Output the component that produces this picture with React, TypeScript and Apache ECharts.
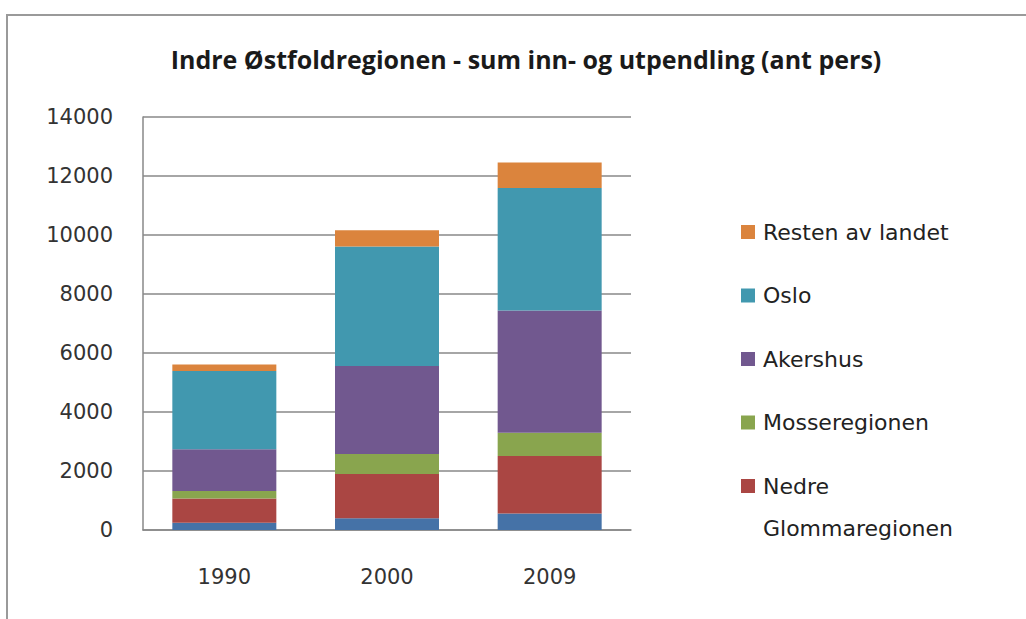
import React, { useEffect, useRef } from "react";
import * as echarts from "echarts";

const categories = ["1990", "2000", "2009"];
const seriesNames = [
  "Indre Østfold",
  "Nedre Glommaregionen",
  "Mosseregionen",
  "Akershus",
  "Oslo",
  "Resten av landet",
];
const indre = [250, 400, 560];
const nedreGlomma = [820, 1500, 1950];
const mosse = [250, 680, 790];
const akershus = [1420, 2980, 4140];
const oslo = [2650, 4050, 4150];
const resten = [220, 550, 870];
const yTicks = [0, 2000, 4000, 6000, 8000, 10000, 12000, 14000];
const legendOrder = ["Resten av landet", "Oslo", "Akershus", "Mosseregionen", "Nedre Glommaregionen"];

const colors = ["#4572A7", "#AA4643", "#89A54E", "#71588F", "#4198AF", "#DB843D"];

export default function App() {
  const ref = useRef<HTMLDivElement>(null);
  useEffect(() => {
    if (!ref.current) return;
    const chart = echarts.init(ref.current, null, { renderer: "svg" });
    const values = [indre, nedreGlomma, mosse, akershus, oslo, resten];
    chart.setOption({
      animation: false,
      backgroundColor: "#ffffff",
      title: {
        text: "Indre Østfoldregionen - sum inn- og utpendling (ant pers)",
        left: 521,
        textAlign: "center",
        top: 41,
        textStyle: {
          fontFamily: "Open Sans",
          fontWeight: 700,
          fontSize: 25,
          color: "#1a1a1a",
        },
      },
      graphic: [
        {
          type: "rect",
          shape: { x: 7, y: 15, width: 1040, height: 640 },
          style: { fill: "none", stroke: "#9a9a9a", lineWidth: 2 },
          silent: true,
        },
        {
          type: "text",
          x: 763,
          y: 528,
          style: {
            text: "Glommaregionen",
            font: "22px 'DejaVu Sans'",
            fill: "#222",
            verticalAlign: "middle",
          },
        },
      ],
      legend: {
        orient: "vertical",
        left: 736,
        top: 216,
        itemWidth: 14,
        itemHeight: 14,
        itemGap: 41.5,
        icon: "rect",
        data: legendOrder,
        formatter: (n: string) => (n === "Nedre Glommaregionen" ? "Nedre" : n),
        textStyle: {
          fontFamily: "DejaVu Sans",
          fontSize: 22,
          color: "#222",
          padding: [0, 0, 0, 3],
        },
      },
      grid: { left: 143, right: 395, top: 117, bottom: 89 },
      xAxis: {
        type: "category",
        data: categories,
        axisLine: { lineStyle: { color: "#888", width: 1.5 } },
        axisTick: { show: false },
        axisLabel: {
          fontFamily: "DejaVu Sans",
          fontSize: 21,
          color: "#333",
          margin: 36,
        },
      },
      yAxis: {
        type: "value",
        min: yTicks[0],
        max: yTicks[yTicks.length - 1],
        interval: 2000,
        axisLine: { show: true, lineStyle: { color: "#888", width: 1.5 } },
        axisTick: { show: false },
        splitLine: { lineStyle: { color: "#888", width: 1.5 } },
        axisLabel: {
          fontFamily: "DejaVu Sans",
          fontSize: 21,
          color: "#333",
          margin: 30,
          formatter: (v: number) => String(v),
        },
      },
      series: seriesNames.map((name, i) => ({
        name,
        type: "bar",
        stack: "total",
        data: values[i],
        barWidth: 104,
        itemStyle: { color: colors[i] },
      })),
    });
    return () => chart.dispose();
  }, []);
  return (
    <div
      ref={ref}
      style={{ position: "fixed", left: 0, top: 0, width: 1026, height: 619 }}
    />
  );
}
